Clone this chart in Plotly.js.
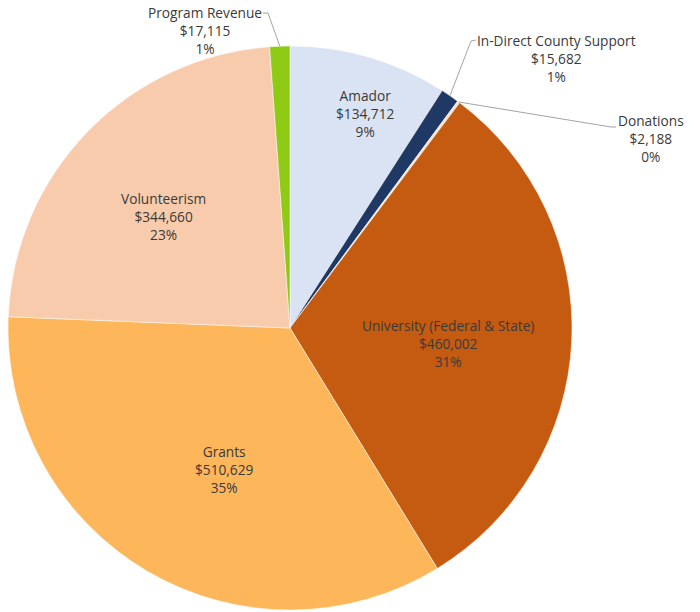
<!DOCTYPE html>
<html>
<head>
<meta charset="utf-8">
<script src="https://cdn.plot.ly/plotly-3.0.1.min.js"></script>
<style>html,body{margin:0;padding:0;background:#fff;}#chart{width:700px;height:612px;}</style>
</head>
<body>
<div id="chart"></div>
<script>
// Data
var categories = ["Amador", "In-Direct County Support", "Donations", "University (Federal & State)", "Grants", "Volunteerism", "Program Revenue"];
var values = [134712, 15682, 2188, 460002, 510629, 344660, 17115];
var pctLabels = ["9%", "1%", "0%", "31%", "35%", "23%", "1%"];
var colors = ["#dae3f3", "#203864", "#f6e2c8", "#c55a11", "#fdb65a", "#f8cbad", "#8fcb15"];

// Layout/style settings (pixels)
var W = 700, H = 612;
var cx = 290, cy = 328, R = 282;
// label centers (px) for each slice
var labelPos = [[365, 113], [556, 59], [651, 139], [448, 343], [224, 469], [163, 216], [205, 30]];
// leader-line elbows for outside labels: [textEndX, textEndY, elbowX, elbowY]
var leaders = {1: [476, 40, 471, 41], 2: [616, 127, 611, 127], 6: [263, 13, 268, 13]};

function fmt(v) { return "$" + v.toLocaleString("en-US"); }
function px(x) { return x / W; }
function py(y) { return 1 - y / H; }

var total = values.reduce(function (a, b) { return a + b; }, 0);

var annotations = [];
var shapes = [];
var cum = 0;
for (var i = 0; i < categories.length; i++) {
  var mid = (cum + values[i] / 2) / total * 2 * Math.PI;
  cum += values[i];
  annotations.push({
    xref: "paper", yref: "paper",
    x: px(labelPos[i][0]), y: py(labelPos[i][1]),
    xanchor: "center", yanchor: "middle",
    text: categories[i] + "<br>" + fmt(values[i]) + "<br>" + pctLabels[i],
    showarrow: false,
    font: {family: "'Open Sans', Lato, sans-serif", size: 13.7, color: "#3a3a3a"}
  });
  if (leaders[i]) {
    var tx = cx + R * Math.sin(mid), ty = cy - R * Math.cos(mid);
    var L = leaders[i];
    shapes.push({
      type: "path", xref: "paper", yref: "paper",
      path: "M " + px(L[0]) + " " + py(L[1]) + " L " + px(L[2]) + " " + py(L[3]) + " L " + px(tx) + " " + py(ty),
      line: {color: "#8c8c8c", width: 0.8}
    });
  }
}

var trace = {
  type: "pie",
  labels: categories,
  values: values,
  sort: false,
  direction: "clockwise",
  rotation: 0,
  textinfo: "none",
  marker: {colors: colors, line: {color: "#ffffff", width: 0.5}},
  domain: {x: [px(cx - R), px(cx + R)], y: [py(cy + R), py(cy - R)]},
  showlegend: false,
  hoverinfo: "label+value+percent"
};

var layout = {
  width: W, height: H,
  margin: {l: 0, r: 0, t: 0, b: 0},
  paper_bgcolor: "#ffffff",
  showlegend: false,
  annotations: annotations,
  shapes: shapes
};

Plotly.newPlot("chart", [trace], layout, {displayModeBar: false, staticPlot: true});
</script>
</body>
</html>
